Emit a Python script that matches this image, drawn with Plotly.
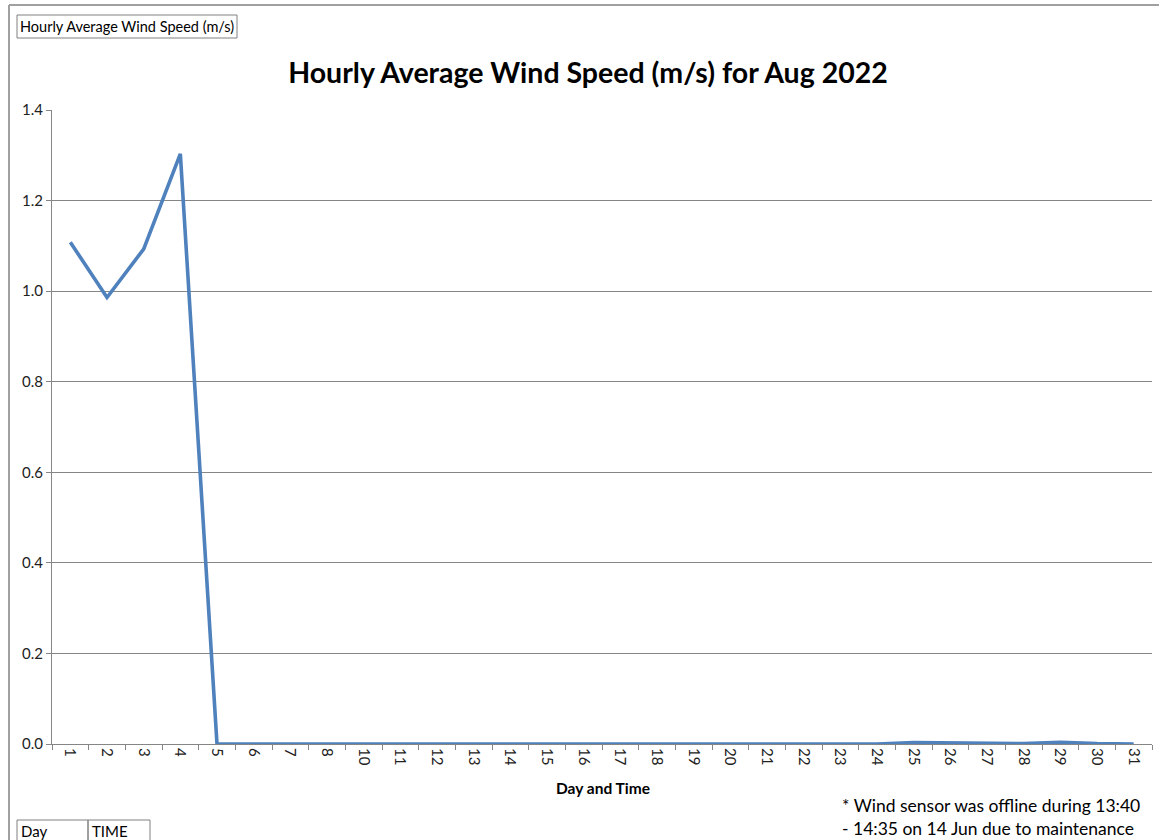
import plotly.graph_objects as go

days = ["1", "2", "3", "4", "5", "6", "7", "8", "10", "11", "12", "13", "14", "15", "16",
        "17", "18", "19", "20", "21", "22", "23", "24", "25", "26", "27", "28", "29", "30", "31"]
wind_speed = [1.108, 0.986, 1.093, 1.303, 0.0, 0.0, 0.0, 0.0, 0.0, 0.0, 0.0, 0.0, 0.0, 0.0, 0.0,
              0.0, 0.0, 0.0, 0.0, 0.0, 0.0, 0.0, 0.0, 0.003, 0.002, 0.001, 0.001, 0.004, 0.001, 0.0]
y_ticks = [0.0, 0.2, 0.4, 0.6, 0.8, 1.0, 1.2, 1.4]

W, H = 1159, 840
L, R, T, B = 52, 1152, 110, 744

def px(x):
    return (x - L) / (R - L)

def py(y):
    return (B - y) / (B - T)

FONT = "Lato, 'Noto Sans', sans-serif"

fig = go.Figure()
fig.add_trace(go.Scatter(
    x=days, y=wind_speed, mode="lines",
    line=dict(color="#4F81BD", width=3.6),
    showlegend=False,
))

fig.update_layout(
    width=W, height=H,
    margin=dict(l=L, r=W - R, t=T, b=H - B),
    paper_bgcolor="white", plot_bgcolor="white",
    font=dict(family=FONT, size=15, color="#222222"),
    title=dict(
        text="Hourly Average Wind Speed (m/s) for Aug 2022",
        x=588 / W, xanchor="center", xref="container",
        y=1 - 73 / H, yanchor="middle", yref="container",
        font=dict(family=FONT, size=28.5, color="#000000", weight="bold"),
    ),
    xaxis=dict(
        type="category", categoryorder="array", categoryarray=days,
        tickangle=90, ticks="outside", ticklen=5, tickcolor="#868686",
        tickson="boundaries", showline=True, linecolor="#868686", linewidth=1,
        showgrid=False, tickfont=dict(size=15, color="#222222"),
        range=[-0.5, len(days) - 0.5], fixedrange=True,
    ),
    yaxis=dict(
        range=[0, 1.4], tickvals=y_ticks, tickformat=".1f",
        ticks="outside", ticklen=5, tickcolor="#868686",
        showline=True, linecolor="#868686", linewidth=1,
        showgrid=True, gridcolor="#868686", gridwidth=1,
        zeroline=False, tickfont=dict(size=15, color="#222222"),
        fixedrange=True,
    ),
)

shapes = []
# outer chart border (left and top)
shapes.append(dict(type="line", xref="paper", yref="paper",
                   x0=px(9), x1=px(9), y0=py(5), y1=py(845),
                   line=dict(color="#A0A0A0", width=2)))
shapes.append(dict(type="line", xref="paper", yref="paper",
                   x0=px(9), x1=px(1165), y0=py(5), y1=py(5),
                   line=dict(color="#A0A0A0", width=2)))
# small label box top-left
shapes.append(dict(type="rect", xref="paper", yref="paper",
                   x0=px(17), x1=px(237), y0=py(15), y1=py(38),
                   line=dict(color="#808080", width=1), fillcolor="white"))
# Day / TIME table at bottom-left
shapes.append(dict(type="rect", xref="paper", yref="paper",
                   x0=px(17), x1=px(88), y0=py(820), y1=py(850),
                   line=dict(color="#808080", width=1)))
shapes.append(dict(type="rect", xref="paper", yref="paper",
                   x0=px(88), x1=px(150), y0=py(820), y1=py(850),
                   line=dict(color="#808080", width=1)))
fig.update_layout(shapes=shapes)

annotations = [
    dict(text="Hourly Average Wind Speed (m/s)", xref="paper", yref="paper",
         x=px(18), y=py(27), xanchor="left", yanchor="middle", showarrow=False,
         font=dict(family=FONT, size=14.5, color="#000000")),
    dict(text="<b>Day and Time</b>", xref="paper", yref="paper",
         x=px(603), y=py(788), xanchor="center", yanchor="middle", showarrow=False,
         font=dict(family=FONT, size=15.5, color="#000000")),
    dict(text="* Wind sensor was offline during 13:40", xref="paper", yref="paper",
         x=px(840), y=py(805), xanchor="left", yanchor="middle", showarrow=False,
         font=dict(family=FONT, size=17.5, color="#000000")),
    dict(text="- 14:35 on 14 Jun due to maintenance", xref="paper", yref="paper",
         x=px(840), y=py(828), xanchor="left", yanchor="middle", showarrow=False,
         font=dict(family=FONT, size=17.5, color="#000000")),
    dict(text="Day", xref="paper", yref="paper",
         x=px(19), y=py(831), xanchor="left", yanchor="middle", showarrow=False,
         font=dict(family=FONT, size=15, color="#000000")),
    dict(text="TIME", xref="paper", yref="paper",
         x=px(90), y=py(831), xanchor="left", yanchor="middle", showarrow=False,
         font=dict(family=FONT, size=15, color="#000000")),
]
fig.update_layout(annotations=annotations)

fig.write_html(
    "out.html",
    config={"displayModeBar": False},
    post_script="document.body.style.margin='0';document.body.style.overflow='hidden';",
)
